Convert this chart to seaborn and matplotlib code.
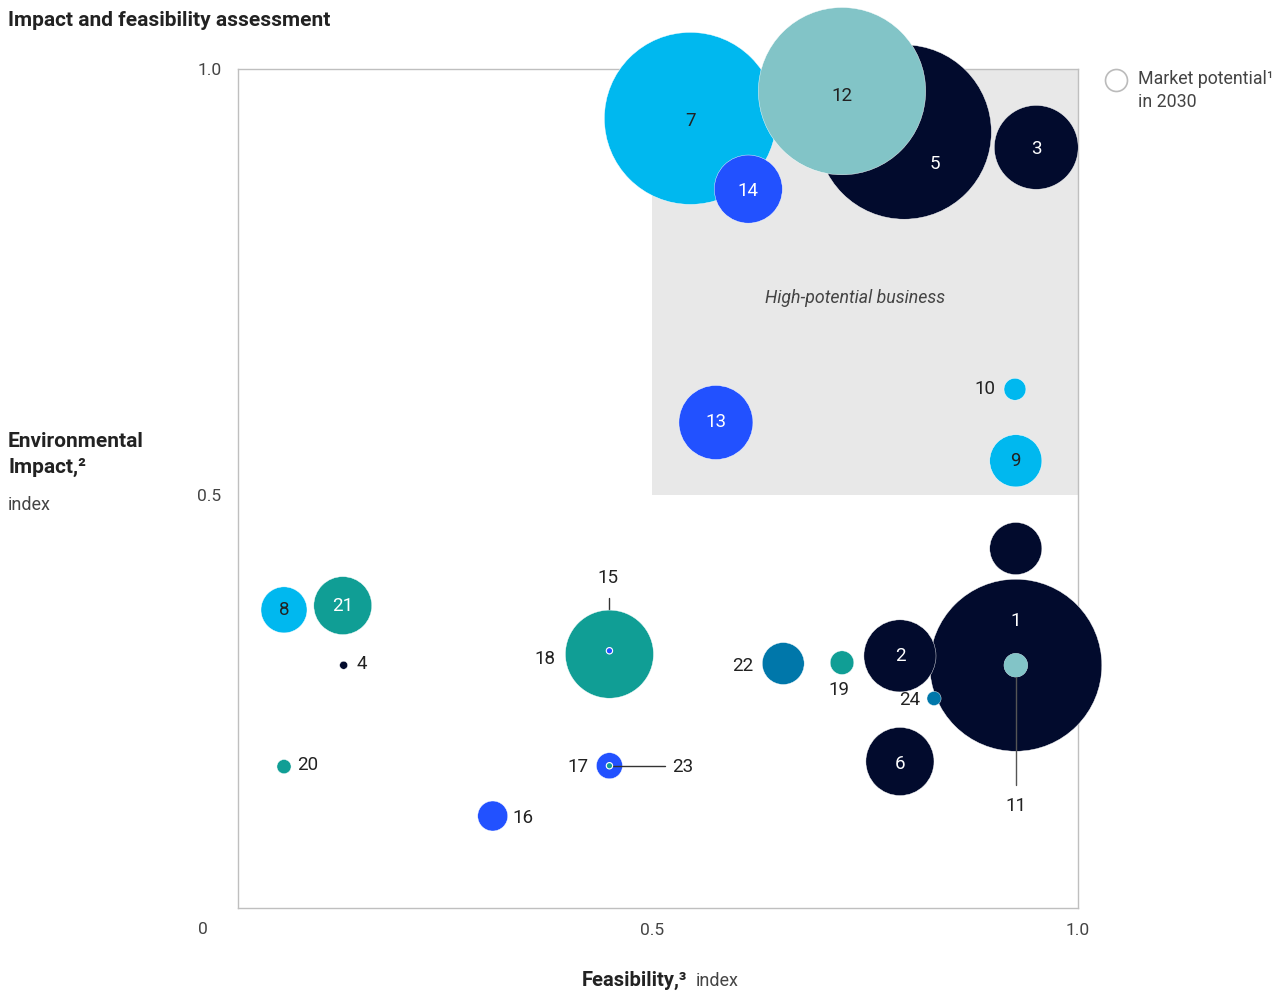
import pandas as pd
import numpy as np
import matplotlib
matplotlib.use("Agg")
import matplotlib.pyplot as plt
import seaborn as sns

# bubble data, drawn in this order (big ones first)
ids = ["7", "5", "12", "14", "3", "13", "10", "9", "", "1", "11", "2", "6",
       "24", "22", "19", "18", "15", "17", "23", "16", "20", "4", "8", "21"]
feasibility = [0.545, 0.796, 0.723, 0.613, 0.951, 0.575, 0.926, 0.927, 0.927,
               0.927, 0.927, 0.791, 0.791, 0.831, 0.654, 0.723, 0.450, 0.450,
               0.450, 0.450, 0.313, 0.068, 0.138, 0.068, 0.137]
impact = [0.942, 0.926, 0.974, 0.859, 0.908, 0.585, 0.624, 0.540, 0.437,
          0.300, 0.300, 0.311, 0.187, 0.261, 0.302, 0.303, 0.313, 0.317,
          0.182, 0.182, 0.123, 0.181, 0.300, 0.365, 0.370]
market = [74, 76, 70, 11.6, 17.6, 13.7, 1.2, 6.8, 6.8, 74, 1.4, 13, 11.6,
          0.5, 4.4, 1.4, 19.4, 0.1, 1.7, 0.1, 2.25, 0.5, 0.16, 5.3, 8.4]
group = ["cyan", "navy", "mint", "blue", "navy", "blue", "cyan", "cyan", "navy",
         "navy", "mint", "navy", "navy", "steel", "steel", "teal", "teal", "blue",
         "blue", "teal", "blue", "teal", "navy", "cyan", "teal"]

colors = {"navy": "#020B2D", "cyan": "#00B8EF", "blue": "#2251FF",
          "teal": "#109E95", "mint": "#82C4C7", "steel": "#0077AA"}

df = pd.DataFrame({"id": ids, "feasibility": feasibility, "impact": impact,
                   "market": market, "group": group})

W, H = 1284, 994
sns.set_theme(style="white")
plt.rcParams["font.family"] = ["Roboto", "DejaVu Sans"]

fig = plt.figure(figsize=(W / 100, H / 100), dpi=100)
ax = fig.add_axes([238 / W, 1 - 908 / H, 840 / W, 839 / H])
ax.set_xlim(0.014, 1.0)
ax.set_ylim(0.015, 1.0)

# high potential area
ax.add_patch(plt.Rectangle((0.5, 0.5), 0.5, 0.5, color="#E8E8E8", zorder=0, lw=0))
ax.text(0.738, 0.731, "High-potential business", style="italic", fontsize=12.8,
        color="#444444", ha="center", va="center")

# market value -> marker area (points^2), radius px = 10*sqrt(m)
k = 207.36
sns.scatterplot(data=df, x="feasibility", y="impact", size="market",
                sizes=(0, k * 100), size_norm=(0, 100), hue="group",
                palette=colors, legend=False, edgecolor="white", linewidth=0.3,
                clip_on=False, ax=ax, zorder=3)

# leader lines (pixel offsets converted to data)
pxu = 1 / 852
ax.plot([0.450, 0.450], [0.317, 0.317 + 53 * pxu], color="#333333", lw=1, zorder=2.5)
ax.plot([0.450, 0.450 + 56 * pxu], [0.182, 0.182], color="#333333", lw=1, zorder=4)
ax.plot([0.927, 0.927], [0.300, 0.300 - 120 * pxu], color="#555555", lw=1, zorder=4)
# redraw small dots on top of the lines
ax.scatter([0.450, 0.450], [0.317, 0.182], s=[k * 0.1] * 2,
           c=[colors["blue"], colors["teal"]], edgecolors="white", linewidths=0.8,
           zorder=5)
ax.scatter([0.927], [0.300], s=[k * 1.4], c=[colors["mint"]], edgecolors="none",
           zorder=5)

# label placement: (dx px, dy px, ha, color)
dark, white = "#222222", "white"
label_style = {
    "7": (0, -3, "center", dark), "12": (0, -5, "center", dark),
    "5": (31, -32, "center", white), "3": (0, -2, "center", white),
    "14": (0, -2, "center", white), "13": (0, 0, "center", white),
    "10": (-30, 0, "center", dark), "9": (0, 0, "center", dark),
    "1": (0, 44, "center", white), "11": (0, -141, "center", dark),
    "2": (0, 0, "center", white), "6": (0, -3, "center", white),
    "24": (-24, -2, "center", dark), "22": (-40, -2, "center", dark),
    "19": (-3, -27, "center", dark), "18": (-65, -5, "center", dark),
    "15": (-2, 73, "center", dark), "17": (-31, -1, "center", dark),
    "23": (73, -1, "center", dark), "16": (30, -2, "center", dark),
    "20": (24, 2, "center", dark), "4": (18, 1, "center", dark),
    "8": (0, 0, "center", dark), "21": (0, 0, "center", white),
}
for _, r in df.iterrows():
    if r["id"] == "":
        continue
    dx, dy, ha, c = label_style[r["id"]]
    ax.annotate(r["id"], (r["feasibility"], r["impact"]), xytext=(dx, dy),
                textcoords="offset pixels", ha=ha, va="center", fontsize=13.5,
                color=c, zorder=6, annotation_clip=False)

# frame and ticks
for s in ax.spines.values():
    s.set_color("#BFBFBF")
    s.set_linewidth(1)
ax.set_xticks([0.5, 1.0])
ax.set_xticklabels(["0.5", "1.0"])
ax.set_yticks([0.5, 1.0])
ax.set_yticklabels(["0.5", "1.0"])
ax.tick_params(length=0, labelsize=12.5, labelcolor="#444444")
ax.tick_params(axis="x", pad=11)
ax.tick_params(axis="y", pad=12)
ax.set_xlabel("")
ax.set_ylabel("")


def fx(x, y):
    return x / W, 1 - y / H


fig.text(*fx(203, 929), "0", fontsize=12.5, color="#444444", ha="center", va="center")

# titles and axis labels
fig.text(*fx(8, 20), "Impact and feasibility assessment", fontsize=15,
         fontweight="bold", color="#222222", va="center")
fig.text(*fx(8, 441), "Environmental", fontsize=15, fontweight="bold",
         color="#222222", va="center")
fig.text(*fx(8, 467), "Impact,²", fontsize=15, fontweight="bold",
         color="#222222", va="center")
fig.text(*fx(8, 505), "index", fontsize=13, color="#444444", va="center")
fig.text(*fx(582, 980), "Feasibility,³", fontsize=14.5, fontweight="bold",
         color="#222222", va="center", ha="left")
fig.text(*fx(696, 981), "index", fontsize=13, color="#444444", va="center")

# legend
ax.scatter([(1116 - 238) / 840], [(908 - 80) / 839], s=2.0736 * 121,
           facecolors="white", edgecolors="#BBBBBB", linewidths=1.2,
           transform=ax.transAxes, clip_on=False)
fig.text(*fx(1138, 79), "Market potential¹", fontsize=12.8, color="#444444", va="center")
fig.text(*fx(1138, 102), "in 2030", fontsize=12.8, color="#444444", va="center")

fig.savefig("out.png", dpi=100)
